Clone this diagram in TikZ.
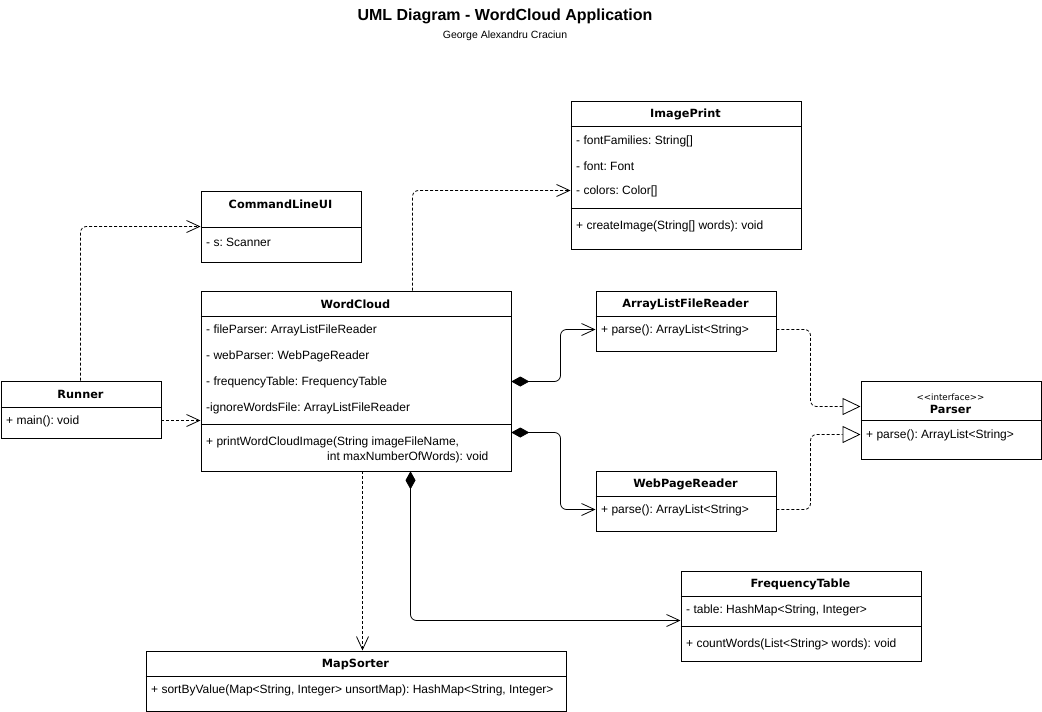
\documentclass[tikz,border=0pt]{standalone}
\usepackage{fontspec}
\setmainfont{Liberation Sans}
\newfontfamily\headfont{DejaVu Sans}
\usetikzlibrary{arrows.meta}
\frenchspacing
\begin{document}
\frenchspacing
\begin{tikzpicture}[x=1pt,y=-1pt,
  cls/.style={draw, line width=0.8pt, inner sep=0pt, anchor=north west, fill=white},
  sep/.style={line width=0.8pt},
  txt/.style={anchor=west, inner sep=0pt, yshift=-1.5pt, font=\fontsize{12}{14}\selectfont},
  hd/.style={inner sep=0pt, yshift=-0.5pt, font=\headfont\bfseries\fontsize{11.3}{13}\selectfont},
  conn/.style={line width=0.8pt, rounded corners=6pt},
  dashline/.style={conn, dash pattern=on 3pt off 2pt},
  dep/.style={dashline, -{Straight Barb[length=13pt,width=12pt,line width=0.8pt]}},
  real/.style={dashline, -{Triangle[open,length=18pt,width=17pt,fill=white,line width=0.8pt]}},
  comp/.style={conn, {Diamond[length=18pt,width=10pt]}-{Straight Barb[length=13pt,width=12pt,line width=0.8pt]}}
]
\useasboundingbox (0,0) rectangle (1042,712);
\fill[white] (0,0) rectangle (1042,712);

% title
\node[inner sep=0pt, font=\bfseries\fontsize{16}{18}\selectfont] (title) at (505,16.5) {UML Diagram - WordCloud Application};
\node[inner sep=0pt, font=\fontsize{10.5}{12}\selectfont] (author) at (505,35.5) {George Alexandru Craciun};

% ImagePrint
\node[cls, minimum width=230pt, minimum height=148pt] (ip) at (570.5,100.5) {};
\node[hd] (ipH) at (685.5,114) {ImagePrint};
\draw[sep] (570.5,126.5) -- (800.5,126.5);
\node[txt] (ip1) at (576,140) {- fontFamilies: String[]};
\node[txt] (ip2) at (576,165) {- font: Font};
\node[txt] (ip3) at (576,190) {- colors: Color[]};
\draw[sep] (570.5,208.5) -- (800.5,208.5);
\node[txt] (ip4) at (576,225) {+ createImage(String[] words): void};

% CommandLineUI
\node[cls, minimum width=160pt, minimum height=71pt] (clui) at (200.5,190.5) {};
\node[hd] (cluiH) at (280.5,204) {CommandLineUI};
\draw[sep] (200.5,227.5) -- (360.5,227.5);
\node[txt] (clui1) at (206,241) {- s: Scanner};

% WordCloud
\node[cls, minimum width=310pt, minimum height=180pt] (wc) at (200.5,290.5) {};
\node[hd] (wcH) at (355.5,304) {WordCloud};
\draw[sep] (200.5,316.5) -- (510.5,316.5);
\node[txt] (wc1) at (206,329) {- fileParser: ArrayListFileReader};
\node[txt] (wc2) at (206,355) {- webParser: WebPageReader};
\node[txt] (wc3) at (206,381) {- frequencyTable: FrequencyTable};
\node[txt] (wc4) at (206,407) {-ignoreWordsFile: ArrayListFileReader};
\draw[sep] (200.5,424.5) -- (510.5,424.5);
\node[txt] (wc5) at (206,441) {+ printWordCloudImage(String imageFileName,};
\node[txt] (wc6) at (327,456) {int maxNumberOfWords): void};

% Runner
\node[cls, minimum width=160pt, minimum height=57pt] (runner) at (0.5,380.5) {};
\node[hd] (runnerH) at (80.5,394) {Runner};
\draw[sep] (0.5,407.5) -- (160.5,407.5);
\node[txt] (runner1) at (6,420) {+ main(): void};

% ArrayListFileReader
\node[cls, minimum width=180pt, minimum height=60pt] (alfr) at (595.5,290.5) {};
\node[hd] (alfrH) at (685.5,304) {ArrayListFileReader};
\draw[sep] (595.5,316.5) -- (775.5,316.5);
\node[txt] (alfr1) at (601,329) {+ parse(): ArrayList<String>};

% WebPageReader
\node[cls, minimum width=180pt, minimum height=60pt] (wpr) at (595.5,470.5) {};
\node[hd] (wprH) at (685.5,484) {WebPageReader};
\draw[sep] (595.5,496.5) -- (775.5,496.5);
\node[txt] (wpr1) at (601,509) {+ parse(): ArrayList<String>};

% Parser
\node[cls, minimum width=180pt, minimum height=78pt] (parser) at (860.5,380.5) {};
\node[inner sep=0pt, font=\headfont\fontsize{8.7}{10}\selectfont] (parserS) at (950.5,397) {<<interface>>};
\node[hd] (parserH) at (950.5,409) {Parser};
\draw[sep] (860.5,420.5) -- (1040.5,420.5);
\node[txt] (parser1) at (866,434) {+ parse(): ArrayList<String>};

% FrequencyTable
\node[cls, minimum width=240pt, minimum height=90pt] (ft) at (680.5,570.5) {};
\node[hd] (ftH) at (800.5,584) {FrequencyTable};
\draw[sep] (680.5,596.5) -- (920.5,596.5);
\node[txt] (ft1) at (686,609) {- table: HashMap<String, Integer>};
\draw[sep] (680.5,626.5) -- (920.5,626.5);
\node[txt] (ft2) at (686,643) {+ countWords(List<String> words): void};

% MapSorter
\node[cls, minimum width=420pt, minimum height=60pt] (ms) at (145.5,650.5) {};
\node[hd] (msH) at (355.5,664) {MapSorter};
\draw[sep] (145.5,676.5) -- (565.5,676.5);
\node[txt] (ms1) at (151,689) {+ sortByValue(Map<String, Integer> unsortMap): HashMap<String, Integer>};

% connectors
\draw[dep] (runner.north -| 80.5,0) |- (clui.west |- 0,226.5);
\draw[dep] (runner.east |- 0,420.5) -- (wc.west |- 0,420.5);
\draw[dep] (wc.north -| 412.5,0) |- (ip.west |- 0,190.5);
\draw[comp] (wc.east |- 0,381.5) -- (560.5,381.5) |- (alfr.west |- 0,329.5);
\draw[comp] (wc.east |- 0,432.5) -- (560.5,432.5) |- (wpr.west |- 0,509.5);
\draw[real] (alfr.east |- 0,329.5) -- (810.5,329.5) |- (parser.west |- 0,406.5);
\draw[real] (wpr.east |- 0,509.5) -- (810.5,509.5) |- (parser.west |- 0,434.5);
\draw[comp] (wc.south -| 410.5,0) |- (ft.west |- 0,620.5);
\draw[dep] (wc.south -| 362.5,0) -- (ms.north -| 362.5,0);
\end{tikzpicture}
\end{document}
